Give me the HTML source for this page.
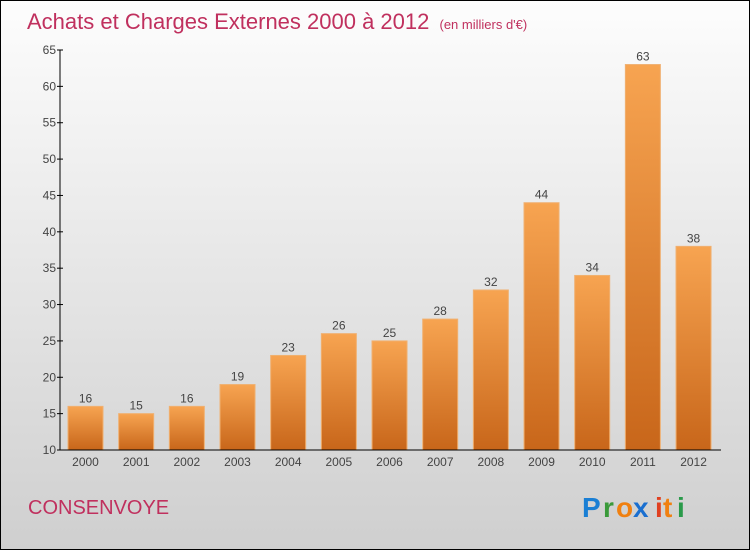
<!DOCTYPE html>
<html><head><meta charset="utf-8"><style>
body{margin:0;width:750px;height:550px;overflow:hidden;font-family:"Liberation Sans",sans-serif}
#c{position:absolute;left:0;top:0;width:748px;height:548px;border:1px solid #000;background:linear-gradient(#fdfdfd,#cfcfcf)}
</style></head><body>
<div id="c">
<svg width="750" height="550" style="position:absolute;left:-1px;top:-1px">
<defs><linearGradient id="g" x1="0" y1="0" x2="0" y2="1"><stop offset="0" stop-color="#f7a451"/><stop offset="1" stop-color="#c8661a"/></linearGradient></defs>
<text x="27" y="29" font-size="22" fill="#c0305e">Achats et Charges Externes 2000 à 2012 <tspan font-size="13" dx="4">(en milliers d'€)</tspan></text>
<g id="ax"></g><g id="bars"></g>
<line x1="60" y1="50" x2="60" y2="450" stroke="#000"/>
<line x1="60" y1="450" x2="721" y2="450" stroke="#000"/>
<text x="28" y="514" font-size="20" fill="#c0305e">CONSENVOYE</text>
<g font-size="28" font-weight="bold"><text x="582" y="517" fill="#1a7fd4">P</text><text x="603" y="517" fill="#3a9a3a">r</text><text x="616" y="517" fill="#f08010">o</text><text x="633" y="517" fill="#1a6fd0">x</text><text x="655" y="517" fill="#e04020">i</text><text x="663" y="517" fill="#f08010">t</text><text x="677" y="517" fill="#2a9a4a">i</text></g>
</svg></div>
<script>
const years=["2000","2001","2002","2003","2004","2005","2006","2007","2008","2009","2010","2011","2012"];
const values=[16,15,16,19,23,26,25,28,32,44,34,63,38];
const yTicks=[10,15,20,25,30,35,40,45,50,55,60,65];
const NS="http://www.w3.org/2000/svg";
const y=v=>450-(v-10)*400/55, x=i=>85.5+i*50.67;
const ax=document.getElementById('ax'),bars=document.getElementById('bars');
function mk(tag,at,p,txt){const e=document.createElementNS(NS,tag);for(const k in at)e.setAttribute(k,at[k]);if(txt!=null)e.textContent=txt;p.appendChild(e);return e;}
yTicks.forEach(t=>{
 const l=mk('line',{x1:57,x2:63,y1:y(t),y2:y(t),stroke:'#000'},ax);
 
 
 const tx=mk('text',{x:56,y:y(t)+4,'font-size':12,fill:'#444','text-anchor':'end'},ax,t);
 
 
});
years.forEach((yr,i)=>{
 const r=mk('rect',{x:x(i)-17.5,y:y(values[i]),width:35,height:450-y(values[i]),fill:'url(#g)',stroke:'#f0b070','stroke-width':1},bars);
 
 
 const v=mk('text',{x:x(i),y:y(values[i])-4,'font-size':12,fill:'#444','text-anchor':'middle'},bars,values[i]);
 
 
 const t=mk('text',{x:x(i),y:466,'font-size':12,fill:'#444','text-anchor':'middle'},bars,yr);
 
 
});
</script>
</body></html>
